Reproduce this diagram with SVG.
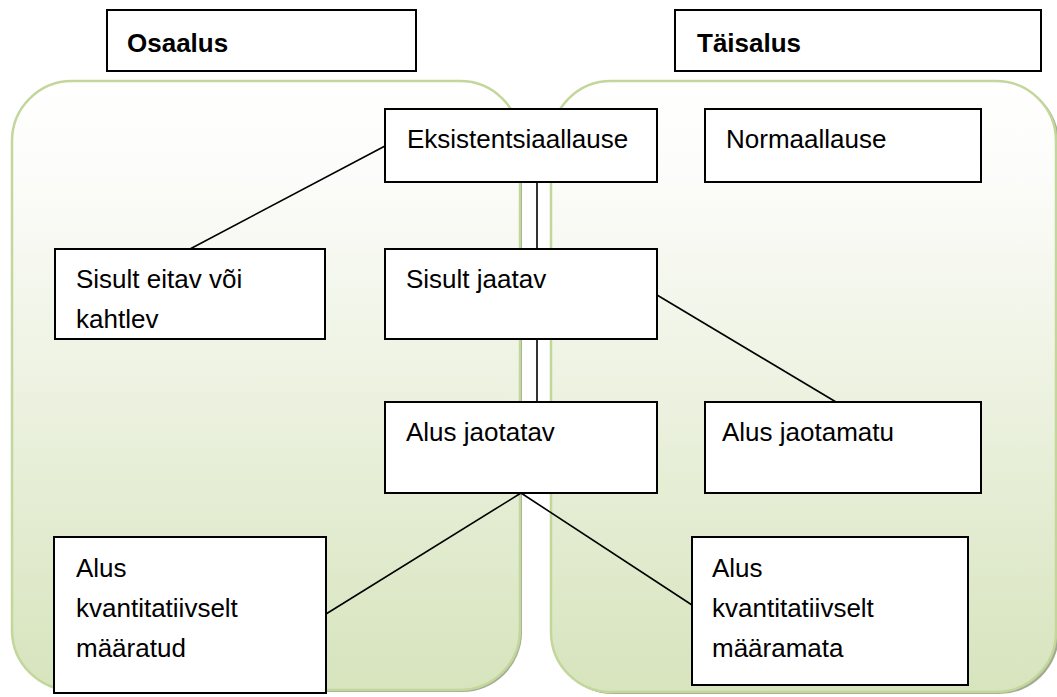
<svg xmlns="http://www.w3.org/2000/svg" width="1057" height="697" viewBox="0 0 1057 697">
  <defs>
    <linearGradient id="panelGrad" x1="0" y1="0" x2="0" y2="1">
      <stop offset="0" stop-color="#ffffff"/>
      <stop offset="0.15" stop-color="#fcfcfa"/>
      <stop offset="1" stop-color="#d7e4bd"/>
    </linearGradient>
    <style>
      .panel { fill: url(#panelGrad); stroke: #c3d69b; stroke-width: 2.5; }
      .pshadow { fill: #a3aa94; }
      .box { fill: #ffffff; stroke: #000000; stroke-width: 2; }
      .bshadow { fill: #c8c8c8; }
      .t { font-family: "Liberation Sans", Arial, sans-serif; font-size: 26px; fill: #000000; }
      .tb { font-family: "Liberation Sans", Arial, sans-serif; font-size: 26px; font-weight: bold; fill: #000000; }
      .conn { stroke: #000000; stroke-width: 1.6; fill: none; }
    </style>
  </defs>
  <rect x="0" y="0" width="1057" height="697" fill="#ffffff"/>

  <g id="panel-left">
    <rect class="pshadow" x="14" y="83" width="508" height="609" rx="60" ry="60"/>
    <rect class="panel" x="12" y="81" width="508" height="609" rx="60" ry="60"/>
  </g>
  <g id="panel-right">
    <rect class="pshadow" x="553" y="83" width="506" height="611" rx="60" ry="60"/>
    <rect class="panel" x="551" y="81" width="505" height="611" rx="60" ry="60"/>
  </g>

  <g id="connectors">
    <line class="conn" x1="385" y1="146" x2="190" y2="249"/>
    <line class="conn" x1="537" y1="182" x2="537" y2="249"/>
    <line class="conn" x1="537" y1="339" x2="537" y2="402"/>
    <line class="conn" x1="657" y1="295" x2="836" y2="402"/>
    <line class="conn" x1="521" y1="493" x2="326" y2="614"/>
    <line class="conn" x1="521" y1="493" x2="692" y2="605"/>
  </g>

  <g id="osaalus">
    <rect class="box" x="107" y="10" width="309" height="61"/>
    <text class="tb" x="127" y="52">Osaalus</text>
  </g>
  <g id="taisalus">
    <rect class="box" x="675" y="10" width="366" height="61"/>
    <text class="tb" x="697" y="52">Täisalus</text>
  </g>
  <g id="eksistentsiaallause">
    <rect class="box" x="385" y="109" width="272" height="73"/>
    <text class="t" x="407" y="148">Eksistentsiaallause</text>
  </g>
  <g id="normaallause">
    <rect class="box" x="705" y="109" width="276" height="73"/>
    <text class="t" x="726" y="148">Normaallause</text>
  </g>
  <g id="sisult-eitav">
    <rect class="box" x="55" y="249" width="270" height="90"/>
    <text class="t" x="76" y="288">Sisult eitav või</text>
    <text class="t" x="76" y="328">kahtlev</text>
  </g>
  <g id="sisult-jaatav">
    <rect class="box" x="385" y="249" width="272" height="90"/>
    <text class="t" x="406" y="288">Sisult jaatav</text>
  </g>
  <g id="alus-jaotatav">
    <rect class="box" x="385" y="402" width="272" height="91"/>
    <text class="t" x="406" y="441">Alus jaotatav</text>
  </g>
  <g id="alus-jaotamatu">
    <rect class="box" x="705" y="402" width="276" height="91"/>
    <text class="t" x="722" y="441">Alus jaotamatu</text>
  </g>
  <g id="alus-maaratud">
    <rect class="box" x="54" y="537" width="272" height="156"/>
    <text class="t" x="76" y="577">Alus</text>
    <text class="t" x="76" y="617">kvantitatiivselt</text>
    <text class="t" x="76" y="657">määratud</text>
  </g>
  <g id="alus-maaramata">
    <rect class="box" x="692" y="537" width="276" height="148"/>
    <text class="t" x="712" y="577">Alus</text>
    <text class="t" x="712" y="617">kvantitatiivselt</text>
    <text class="t" x="712" y="657">määramata</text>
  </g>
</svg>
